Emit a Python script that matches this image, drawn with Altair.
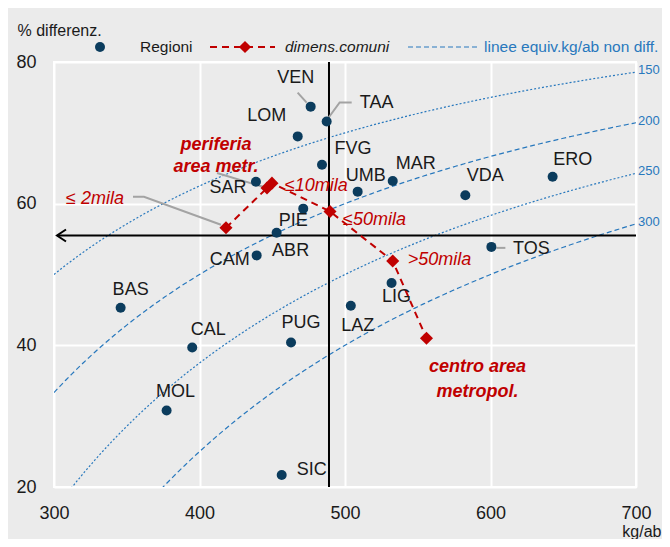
import altair as alt
import pandas as pd

# ---------------- data ----------------
regions = ["VEN", "TAA", "LOM", "FVG", "SAR", "PIE", "ABR", "CAM", "UMB", "MAR",
           "VDA", "ERO", "TOS", "LIG", "LAZ", "BAS", "CAL", "PUG", "MOL", "SIC"]
kg_ab = [476.4, 487.4, 467.5, 484.2, 438.8, 471.3, 453.0, 439.3, 508.7, 532.8,
         582.7, 642.7, 600.6, 532.0, 504.0, 345.8, 395.0, 462.9, 377.4, 456.5]
diff_pct = [73.7, 71.6, 69.5, 65.5, 63.1, 59.3, 55.9, 52.7, 61.7, 63.2,
            61.2, 63.8, 53.9, 48.8, 45.6, 45.3, 39.7, 40.4, 30.8, 21.7]

comuni = ["≤ 2mila", "periferia area metr.", "≤10mila", "≤50mila", ">50mila",
          "centro area metropol."]
comuni_kg = [418.2, 446.4, 449.8, 489.7, 532.8, 556.0]
comuni_pct = [56.6, 62.2, 62.9, 58.9, 51.9, 41.0]

equiv_levels = [150, 200, 250, 300]
x_ticks = [300, 400, 500, 600, 700]
y_ticks = [20, 40, 60, 80]
italia_kg = 489.0
italia_pct = 55.5

# ---------------- layout / style ----------------
W, H = 582, 425
X0, X1, Y0, Y1 = 300, 700, 20, 80
SX = W / (X1 - X0)
SY = H / (Y1 - Y0)

FONT = "Liberation Sans"
NAVY = "#0B3C5D"
RED = "#C00000"
BLUE = "#2878BD"
GRAYLINE = "#A3A3A3"
BG = "#EBEBEB"
INK = "#1a1a1a"

xs = alt.Scale(domain=[X0, X1], nice=False, zero=False)
ys = alt.Scale(domain=[Y0, Y1], nice=False, zero=False)
xax = alt.Axis(values=x_ticks, title="kg/ab", labelFlush=False, labelPadding=17,
               titleX=607, titleY=49, titleAlign="right", titleBaseline="alphabetic")
yax = alt.Axis(values=y_ticks, title="% differenz.", labelPadding=18, titleAngle=0,
               titleX=-37, titleY=-32, titleAlign="left", titleBaseline="middle")


def X(f="x"):
    return alt.X(f, type="quantitative", scale=xs, axis=xax)


def Y(f="y"):
    return alt.Y(f, type="quantitative", scale=ys, axis=yax)


layers = []

# equivalent kg/ab curves (non-differentiated): y = 100*(1 - V/x)
curve_dash = {150: [2, 2], 200: [5, 3], 250: [2, 2], 300: [5, 3]}
for v in equiv_levels:
    layers.append(
        alt.Chart(alt.sequence(X0, X1 + 1, 2, as_="x"))
        .transform_calculate(y=f"100*(1-{v}/datum.x)")
        .mark_line(color=BLUE, strokeWidth=1.2, strokeDash=curve_dash[v], clip=True)
        .encode(x=X(), y=Y())
    )
lev_df = pd.DataFrame({"lev": equiv_levels})
layers.append(
    alt.Chart(lev_df)
    .transform_calculate(x=f"{X1}", y=f"100*(1-datum.lev/{X1})")
    .mark_text(align="left", baseline="middle", dx=2, dy=-2, font=FONT,
               fontSize=13, color=BLUE)
    .encode(x=X(), y=Y(), text="lev:N")
)

# national reference cross
arrow_x = X0 + 3 / SX
hdf = pd.DataFrame({"x": [arrow_x], "x2": [X1], "y": [italia_pct]})
layers.append(alt.Chart(hdf).mark_rule(color="black", strokeWidth=2)
              .encode(x=X(), x2="x2", y=Y()))
vdf = pd.DataFrame({"x": [italia_kg], "y": [Y0], "y2": [Y1]})
layers.append(alt.Chart(vdf).mark_rule(color="black", strokeWidth=2)
              .encode(x=X(), y=Y(), y2="y2"))
adf = pd.DataFrame({"x": [arrow_x], "y": [italia_pct]})
layers.append(alt.Chart(adf).mark_point(shape="M1.5,-1L0,0L1.5,1", filled=False,
                                        stroke="black", strokeWidth=2, size=144, opacity=1)
              .encode(x=X(), y=Y()))

# leader lines (pixel offsets from their anchor point)
reg_pos = dict(zip(regions, zip(kg_ab, diff_pct)))
com_pos = dict(zip(comuni, zip(comuni_kg, comuni_pct)))
leaders = [
    (reg_pos["VEN"], [(-13, -14), (-4, -4)]),
    (reg_pos["TAA"], [(25, -19), (13, -19), (2, -4)]),
    (reg_pos["TOS"], [(5, 1), (14, 1)]),
    (com_pos["≤ 2mila"], [(-93, -31), (-82, -31), (-5, -3)]),
    (com_pos["periferia area metr."], [(-50, -15), (-3, -1)]),
]
for (ax_, ay_), offs in leaders:
    ldf = pd.DataFrame({
        "x": [ax_ + ox / SX for ox, oy in offs],
        "y": [ay_ - oy / SY for ox, oy in offs],
        "o": list(range(len(offs))),
    })
    layers.append(alt.Chart(ldf).mark_line(color=GRAYLINE, strokeWidth=2)
                  .encode(x=X(), y=Y(), order="o:Q"))

# dimensione comuni
cdf = pd.DataFrame({"x": comuni_kg, "y": comuni_pct, "name": comuni,
                    "o": list(range(len(comuni)))})
layers.append(alt.Chart(cdf).mark_line(color=RED, strokeWidth=2, strokeDash=[7, 5])
              .encode(x=X(), y=Y(), order="o:Q"))
layers.append(alt.Chart(cdf).mark_point(shape="diamond", filled=True, size=170,
                                        color=RED, opacity=1)
              .encode(x=X(), y=Y()))

# regions
rdf = pd.DataFrame({"x": kg_ab, "y": diff_pct, "name": regions})
layers.append(alt.Chart(rdf).mark_circle(size=100, color=NAVY, opacity=1)
              .encode(x=X(), y=Y()))

reg_off = {
    "VEN": (-15, -29), "TAA": (50, -19), "LOM": (-31, -20), "FVG": (31, -16),
    "SAR": (-28, 6), "PIE": (-10, 12), "ABR": (14, 18), "CAM": (-27, 5),
    "UMB": (8, -16), "MAR": (23, -17), "VDA": (20, -19), "ERO": (20, -17),
    "TOS": (40, 2), "LIG": (5, 14), "LAZ": (7, 20), "BAS": (10, -18),
    "CAL": (16, -17), "PUG": (10, -20), "MOL": (9, -19), "SIC": (30, -5),
}
for r in regions:
    dx, dy = reg_off[r]
    layers.append(
        alt.Chart(rdf).transform_filter(alt.datum.name == r)
        .mark_text(align="center", baseline="middle", dx=dx, dy=dy, font=FONT,
                   fontSize=18, color=INK)
        .encode(x=X(), y=Y(), text="name:N")
    )

# comuni labels: (text shown, dx, dy, align, weight, lineHeight)
com_lab = {
    "≤ 2mila": ("≤ 2mila", -131, -29, "center", "normal", 22),
    "periferia area metr.": ("periferia\narea metr.", -51, -43, "center", "bold", 22),
    "≤10mila": ("≤10mila", 13, 3, "left", "normal", 22),
    "≤50mila": ("≤50mila", 13, 9, "left", "normal", 22),
    ">50mila": (">50mila", 15, -1, "left", "normal", 22),
    "centro area metropol.": ("centro area\nmetropol.", 51, 29, "center", "bold", 25),
}
for c in comuni:
    txt, dx, dy, al, fw, lh = com_lab[c]
    layers.append(
        alt.Chart(cdf).transform_filter(alt.datum.name == c)
        .transform_calculate(lab="'" + txt.replace("\n", "\\n") + "'")
        .mark_text(align=al, baseline="middle", dx=dx, dy=dy, font=FONT,
                   fontSize=18, fontStyle="italic",
                   fontWeight=fw, color=RED, lineBreak="\n", lineHeight=lh)
        .encode(x=X(), y=Y(), text="lab:N")
    )

# manual legend (pixel positions relative to plot area)
one = pd.DataFrame({"k": [0]})
LY = -15
layers += [
    alt.Chart(one).mark_circle(size=100, color=NAVY, opacity=1)
    .encode(x=alt.value(46), y=alt.value(LY)),
    alt.Chart(one).mark_text(align="left", baseline="middle", font=FONT, fontSize=15.5, color=INK)
    .encode(x=alt.value(86), y=alt.value(LY), text=alt.value("Regioni")),
    alt.Chart(one).mark_rule(color=RED, strokeWidth=2, strokeDash=[7, 5])
    .encode(x=alt.value(156), x2=alt.value(221), y=alt.value(LY)),
    alt.Chart(one).mark_point(shape="diamond", filled=True, size=150, color=RED, opacity=1)
    .encode(x=alt.value(191), y=alt.value(LY)),
    alt.Chart(one).mark_text(align="left", baseline="middle", font=FONT, fontSize=15.5,
                             fontStyle="italic", color=INK)
    .encode(x=alt.value(231), y=alt.value(LY), text=alt.value("dimens.comuni")),
    alt.Chart(one).mark_rule(color=BLUE, strokeWidth=1.2, strokeDash=[5, 3])
    .encode(x=alt.value(354), x2=alt.value(423), y=alt.value(LY)),
    alt.Chart(one).mark_text(align="left", baseline="middle", font=FONT, fontSize=15.5, color=BLUE)
    .encode(x=alt.value(430), y=alt.value(LY), text=alt.value("linee equiv.kg/ab non diff.")),
]

chart = (
    alt.layer(*layers)
    .properties(width=W, height=H, autosize=alt.AutoSizeParams(type="none"),
                padding={"left": 46, "top": 54, "right": 26, "bottom": 52})
    .configure(background=BG)
    .configure_view(stroke="white", strokeWidth=2, fill=BG)
    .configure_axis(domain=False, ticks=False, grid=True, gridColor="white", gridWidth=2,
                    labelFont=FONT, labelFontSize=18, labelColor=INK,
                    titleFont=FONT, titleFontSize=16, titleFontWeight="normal", titleColor=INK)
)

chart.save("out.html", embed_options={"renderer": "svg", "actions": False})
